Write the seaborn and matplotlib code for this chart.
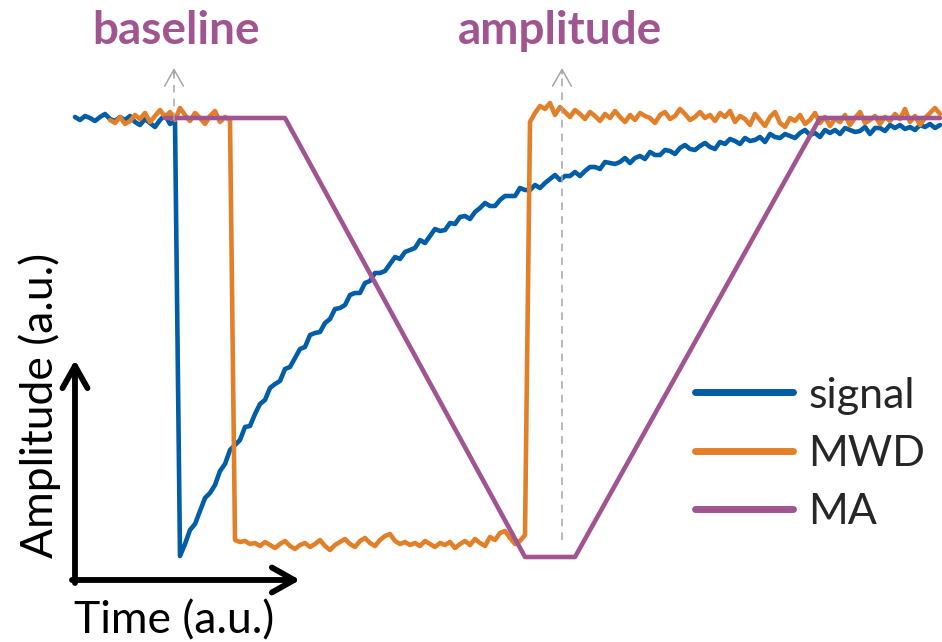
import numpy as np
import pandas as pd
import seaborn as sb
import matplotlib.pyplot as plt

# time in samples (a.u.), amplitude in a.u.
signal_start = 0
signal_values = [
    436, 433, 437, 435, 432, 436, 439, 434, 432, 436, 433, 437, 431, 428, 434, 430, 426, 433, 438, 429, 432,
    -3,
    9, 23, 29, 42, 55, 60, 68, 82, 89, 103,
    108, 113, 126, 127, 139, 149, 153, 165, 169, 172,
    184, 186, 195, 204, 206, 218, 220, 221, 230, 234,
    244, 245, 248, 258, 260, 260, 270, 272, 280, 280,
    282, 289, 296, 294, 301, 303, 305, 313, 310, 317,
    324, 322, 323, 330, 329, 336, 337, 334, 341, 345,
    350, 347, 347, 353, 357, 357, 357, 365, 363, 363,
    368, 365, 370, 374, 378, 373, 377, 377, 381, 377,
    382, 386, 386, 384, 391, 390, 389, 391, 395, 390,
    395, 397, 394, 401, 398, 398, 403, 402, 399, 405,
    408, 404, 403, 407, 410, 406, 404, 411, 409, 414,
    412, 409, 415, 412, 413, 416, 411, 419, 416, 415,
    419, 417, 415, 420, 423, 418, 420, 416, 423, 420,
    423, 419, 425, 423, 421, 422, 426, 419, 425, 425,
    422, 428, 425, 428, 424, 426, 423, 428, 426, 429,
    425, 428,
]

mwd_start = 7
mwd_values = [
    433, 430, 436, 429, 432, 438, 434, 440, 431, 437, 443, 436, 441, 433, 445, 438, 432, 440, 435, 429,
    437, 442, 431, 436, 433,
    13, 11, 12, 9, 10, 7, 11, 8, 5, 9, 12, 7, 4, 8, 10, 6, 9, 13, 7, 3,
    8, 11, 14, 9, 6, 12, 15, 10, 7, 13, 17, 19, 12, 9, 11, 8, 10, 7, 12, 9,
    6, 10, 8, 11, 5, 9, 12, 8, 14, 10, 7, 16, 13, 20, 22, 15, 9, 12, 18,
    431, 440, 447, 444, 450, 438, 446, 441, 436, 443, 439, 434, 441, 437, 432, 439, 435, 442, 436, 431,
    438, 433, 440, 437, 435, 430, 438, 441, 434, 437, 444, 439, 433, 436, 441, 435, 438, 432, 440, 436,
    442, 431, 437, 434, 428, 439, 433, 427, 436, 441, 430, 426, 435, 432, 438, 429, 433, 440, 430, 436,
    427, 434, 431, 438, 428, 435, 441, 430, 433, 437, 429, 436, 432, 439, 434, 444, 431, 437, 428, 435,
    440, 445, 439,
]

ma_times = [18, 42, 90, 100, 149, 173]
ma_values = [435, 435, -4, -4, 435, 435]

series_names = ["signal", "MWD", "MA"]
series_colors = ["#005DA6", "#E2802A", "#A05591"]

baseline_time = 19.8
amplitude_time = 97.4
marker_top = 485
baseline_from = 433
amplitude_from = 13


def build_frame():
    parts = [
        pd.DataFrame({"Time": signal_start + np.arange(len(signal_values)),
                      "Amplitude": signal_values, "Series": "signal"}),
        pd.DataFrame({"Time": mwd_start + np.arange(len(mwd_values)),
                      "Amplitude": mwd_values, "Series": "MWD"}),
        pd.DataFrame({"Time": ma_times, "Amplitude": ma_values, "Series": "MA"}),
    ]
    return pd.concat(parts, ignore_index=True)


def main():
    sb.set_theme(style="white")
    plt.rcParams["font.family"] = ["Lato", "DejaVu Sans"]

    fig = plt.figure(figsize=(9.42, 6.42), dpi=100)
    ax = fig.add_axes([0, 0, 1, 1])

    sb.lineplot(
        data=build_frame(),
        x="Time",
        y="Amplitude",
        hue="Series",
        palette=dict(zip(series_names, series_colors)),
        estimator=None,
        sort=False,
        linewidth=3.3,
        ax=ax,
    )

    ax.set_xlim(-15, 173.4)
    ax.set_ylim(-89, 553)
    ax.set_axis_off()

    handles, labels = ax.get_legend_handles_labels()
    leg = ax.legend(
        handles, labels,
        loc="upper left", bbox_to_anchor=(0.738, 0.4135),
        frameon=False, fontsize=31, handlelength=2.28, handletextpad=0.35,
        labelspacing=0.47, borderpad=0, borderaxespad=0,
    )
    for line in leg.get_lines():
        line.set_linewidth(5)

    # dashed markers for baseline / amplitude sampling
    grey = "#A6A6A6"
    for t, y0 in [(baseline_time, baseline_from), (amplitude_time, amplitude_from)]:
        ax.plot([t, t], [y0, marker_top - 4], color=grey, lw=1.1, ls=(0, (5, 4)))
        ax.annotate("", xy=(t, marker_top), xytext=(t, marker_top - 6),
                    arrowprops=dict(arrowstyle="->,head_length=1.2,head_width=0.68",
                                    color=grey, lw=1.1, mutation_scale=10,
                                    shrinkA=0, shrinkB=0))

    purple = series_colors[2]
    ax.text(0.187, 0.931, "baseline", transform=ax.transAxes, ha="center",
            va="baseline", fontsize=33, fontweight="bold", color=purple)
    ax.text(0.595, 0.931, "amplitude", transform=ax.transAxes, ha="center",
            va="baseline", fontsize=33, fontweight="bold", color=purple)

    # axis arrows
    head = dict(arrowstyle="->,head_length=0.8,head_width=0.45", color="black",
                lw=4.2, mutation_scale=20, shrinkA=0, shrinkB=0)
    ax.annotate("", xy=(0.0796, 0.4393), xytext=(0.0796, 0.0919),
                xycoords="axes fraction", arrowprops=head)
    ax.annotate("", xy=(0.3185, 0.0966), xytext=(0.0764, 0.0966),
                xycoords="axes fraction", arrowprops=head)

    ax.text(0.1847, 0.014, "Time (a.u.)", transform=ax.transAxes, ha="center",
            va="baseline", fontsize=32, color="black")
    ax.text(0.0425, 0.369, "Amplitude (a.u.)", transform=ax.transAxes, ha="center",
            va="center", rotation=90, fontsize=32, color="black")

    fig.savefig("out.png", dpi=100)


if __name__ == "__main__":
    main()
